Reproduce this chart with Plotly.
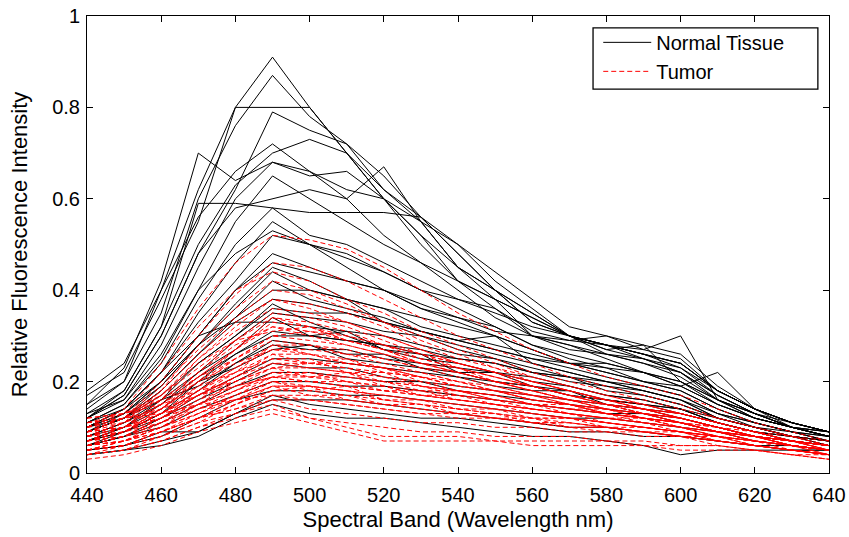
import plotly.graph_objects as go

wavelengths = [440, 450, 460, 470, 480, 490, 500, 510, 520, 530, 540,
               550, 560, 570, 580, 590, 600, 610, 620, 630, 640]

normal_1 = [0.17,0.22,0.38,0.55,0.80,0.91,0.80,0.70,0.60,0.52,0.42,0.38,0.30,0.28,0.25,0.22,0.20,0.15,0.12,0.10,0.09]
normal_2 = [0.15,0.20,0.35,0.60,0.76,0.87,0.78,0.72,0.62,0.55,0.45,0.40,0.33,0.30,0.28,0.25,0.23,0.17,0.13,0.10,0.09]
normal_3 = [0.14,0.20,0.40,0.62,0.80,0.80,0.80,0.70,0.60,0.50,0.42,0.36,0.31,0.29,0.28,0.26,0.24,0.18,0.14,0.11,0.09]
normal_4 = [0.12,0.17,0.30,0.48,0.62,0.79,0.75,0.72,0.65,0.56,0.48,0.40,0.35,0.30,0.28,0.26,0.24,0.18,0.14,0.11,0.09]
normal_5 = [0.15,0.23,0.42,0.70,0.64,0.68,0.66,0.62,0.60,0.55,0.50,0.42,0.36,0.30,0.28,0.27,0.25,0.18,0.14,0.11,0.09]
normal_6 = [0.13,0.18,0.32,0.50,0.63,0.70,0.73,0.70,0.62,0.56,0.50,0.44,0.38,0.32,0.30,0.28,0.26,0.19,0.14,0.11,0.09]
normal_7 = [0.12,0.16,0.28,0.45,0.60,0.68,0.65,0.66,0.60,0.52,0.45,0.40,0.33,0.30,0.27,0.25,0.22,0.17,0.13,0.10,0.09]
normal_8 = [0.11,0.15,0.25,0.40,0.55,0.65,0.60,0.55,0.50,0.46,0.42,0.38,0.34,0.30,0.27,0.28,0.20,0.16,0.13,0.10,0.08]
normal_9 = [0.12,0.17,0.30,0.48,0.58,0.60,0.62,0.60,0.67,0.55,0.45,0.38,0.34,0.30,0.28,0.26,0.23,0.18,0.14,0.11,0.09]
normal_10 = [0.11,0.15,0.24,0.38,0.50,0.58,0.52,0.50,0.46,0.42,0.38,0.36,0.30,0.28,0.26,0.24,0.21,0.16,0.12,0.10,0.08]
normal_11 = [0.12,0.18,0.32,0.59,0.59,0.58,0.57,0.57,0.57,0.56,0.48,0.40,0.35,0.30,0.28,0.26,0.24,0.18,0.14,0.11,0.09]
normal_12 = [0.10,0.14,0.22,0.35,0.46,0.55,0.50,0.48,0.44,0.40,0.36,0.32,0.28,0.26,0.24,0.22,0.19,0.15,0.12,0.10,0.08]
normal_13 = [0.10,0.14,0.22,0.33,0.42,0.52,0.50,0.45,0.40,0.36,0.33,0.30,0.27,0.24,0.22,0.20,0.18,0.14,0.11,0.09,0.08]
normal_14 = [0.09,0.13,0.20,0.30,0.40,0.48,0.45,0.42,0.40,0.36,0.34,0.32,0.28,0.25,0.23,0.22,0.19,0.15,0.12,0.10,0.08]
normal_15 = [0.10,0.13,0.19,0.28,0.37,0.45,0.42,0.38,0.36,0.32,0.30,0.28,0.26,0.24,0.22,0.20,0.18,0.14,0.11,0.09,0.08]
normal_16 = [0.09,0.12,0.18,0.26,0.34,0.42,0.38,0.36,0.34,0.31,0.29,0.30,0.24,0.22,0.20,0.19,0.17,0.13,0.11,0.09,0.07]
normal_17 = [0.09,0.12,0.17,0.24,0.30,0.36,0.35,0.35,0.33,0.31,0.29,0.27,0.25,0.23,0.21,0.19,0.17,0.13,0.10,0.09,0.07]
normal_18 = [0.08,0.11,0.16,0.22,0.29,0.35,0.34,0.33,0.31,0.30,0.28,0.26,0.24,0.22,0.20,0.18,0.16,0.12,0.10,0.08,0.07]
normal_19 = [0.10,0.14,0.22,0.30,0.33,0.33,0.32,0.31,0.30,0.28,0.26,0.25,0.23,0.21,0.19,0.18,0.16,0.12,0.10,0.08,0.07]
normal_20 = [0.07,0.10,0.14,0.20,0.26,0.30,0.30,0.29,0.28,0.27,0.25,0.24,0.22,0.20,0.19,0.17,0.15,0.12,0.10,0.08,0.07]
normal_21 = [0.07,0.09,0.13,0.18,0.24,0.28,0.27,0.27,0.25,0.24,0.23,0.22,0.20,0.19,0.17,0.16,0.14,0.11,0.09,0.08,0.06]
normal_22 = [0.07,0.09,0.12,0.17,0.21,0.25,0.25,0.24,0.23,0.22,0.21,0.20,0.19,0.17,0.16,0.15,0.13,0.11,0.09,0.07,0.06]
normal_23 = [0.06,0.08,0.11,0.15,0.19,0.22,0.22,0.21,0.20,0.20,0.19,0.18,0.17,0.16,0.15,0.14,0.12,0.10,0.08,0.07,0.06]
normal_24 = [0.06,0.08,0.10,0.14,0.17,0.20,0.20,0.19,0.19,0.18,0.17,0.16,0.15,0.14,0.13,0.13,0.11,0.09,0.08,0.07,0.06]
normal_25 = [0.05,0.06,0.08,0.12,0.16,0.18,0.18,0.17,0.17,0.16,0.15,0.14,0.13,0.12,0.12,0.11,0.10,0.09,0.07,0.06,0.05]
normal_26 = [0.04,0.05,0.07,0.09,0.13,0.16,0.16,0.16,0.15,0.14,0.13,0.12,0.11,0.10,0.10,0.09,0.08,0.07,0.06,0.06,0.05]
normal_27 = [0.13,0.16,0.26,0.40,0.48,0.53,0.50,0.47,0.44,0.40,0.38,0.35,0.32,0.30,0.26,0.24,0.22,0.17,0.13,0.10,0.08]
normal_28 = [0.11,0.14,0.20,0.28,0.34,0.40,0.40,0.38,0.36,0.34,0.32,0.30,0.27,0.24,0.24,0.22,0.20,0.16,0.12,0.10,0.08]
normal_29 = [0.18,0.24,0.40,0.56,0.66,0.72,0.66,0.60,0.52,0.46,0.40,0.34,0.30,0.27,0.26,0.25,0.22,0.16,0.13,0.11,0.09]
normal_30 = [0.08,0.10,0.15,0.21,0.26,0.31,0.30,0.29,0.28,0.26,0.25,0.24,0.22,0.21,0.20,0.18,0.16,0.13,0.11,0.09,0.07]
normal_31 = [0.10,0.13,0.20,0.30,0.40,0.46,0.44,0.42,0.40,0.37,0.34,0.31,0.30,0.29,0.30,0.27,0.30,0.16,0.13,0.10,0.08]
normal_32 = [0.09,0.12,0.18,0.26,0.33,0.38,0.37,0.35,0.33,0.31,0.29,0.27,0.25,0.24,0.23,0.20,0.19,0.22,0.14,0.10,0.08]
normal_33 = [0.04,0.05,0.06,0.08,0.12,0.15,0.13,0.12,0.12,0.11,0.10,0.09,0.08,0.08,0.07,0.06,0.04,0.05,0.05,0.05,0.05]
normal_34 = [0.05,0.06,0.09,0.09,0.13,0.17,0.15,0.14,0.13,0.12,0.12,0.11,0.10,0.09,0.09,0.08,0.08,0.07,0.06,0.05,0.05]
normal_35 = [0.08,0.11,0.15,0.22,0.27,0.34,0.30,0.31,0.27,0.26,0.22,0.22,0.19,0.18,0.16,0.15,0.14,0.11,0.09,0.08,0.06]
normal_36 = [0.06,0.09,0.13,0.20,0.23,0.27,0.28,0.25,0.24,0.23,0.21,0.19,0.18,0.18,0.15,0.14,0.13,0.11,0.09,0.07,0.06]
normal_37 = [0.09,0.12,0.19,0.28,0.36,0.44,0.40,0.38,0.33,0.30,0.27,0.25,0.22,0.21,0.18,0.17,0.15,0.12,0.10,0.08,0.07]
normal_38 = [0.07,0.10,0.16,0.24,0.30,0.37,0.33,0.30,0.27,0.25,0.24,0.22,0.21,0.19,0.17,0.16,0.14,0.12,0.10,0.08,0.07]
normal_39 = [0.10,0.12,0.16,0.19,0.24,0.29,0.28,0.26,0.26,0.23,0.22,0.20,0.19,0.17,0.16,0.15,0.14,0.11,0.09,0.08,0.07]
normal_40 = [0.06,0.08,0.12,0.16,0.20,0.24,0.23,0.23,0.21,0.20,0.18,0.17,0.16,0.15,0.14,0.13,0.12,0.10,0.08,0.07,0.06]

tumor_1 = [0.10,0.14,0.24,0.36,0.46,0.52,0.51,0.49,0.45,0.40,0.35,0.31,0.27,0.24,0.21,0.19,0.17,0.14,0.11,0.09,0.07]
tumor_2 = [0.09,0.12,0.20,0.30,0.39,0.46,0.45,0.42,0.38,0.34,0.30,0.27,0.24,0.21,0.19,0.17,0.15,0.12,0.10,0.08,0.07]
tumor_3 = [0.10,0.13,0.22,0.32,0.40,0.44,0.42,0.38,0.35,0.31,0.28,0.25,0.22,0.20,0.18,0.16,0.14,0.12,0.10,0.08,0.06]
tumor_4 = [0.08,0.11,0.18,0.28,0.36,0.42,0.40,0.37,0.33,0.30,0.27,0.24,0.21,0.19,0.17,0.15,0.13,0.11,0.09,0.07,0.06]
tumor_5 = [0.09,0.12,0.19,0.27,0.34,0.40,0.39,0.36,0.33,0.29,0.26,0.23,0.21,0.19,0.17,0.15,0.13,0.11,0.09,0.07,0.06]
tumor_6 = [0.07,0.10,0.16,0.25,0.32,0.38,0.37,0.35,0.32,0.28,0.25,0.23,0.20,0.18,0.16,0.15,0.13,0.11,0.09,0.07,0.06]
tumor_7 = [0.08,0.11,0.17,0.25,0.31,0.36,0.35,0.33,0.30,0.27,0.24,0.22,0.20,0.18,0.16,0.14,0.12,0.10,0.08,0.07,0.05]
tumor_8 = [0.07,0.10,0.15,0.22,0.29,0.35,0.34,0.32,0.29,0.26,0.24,0.22,0.19,0.17,0.16,0.14,0.12,0.10,0.08,0.07,0.05]
tumor_9 = [0.09,0.12,0.17,0.24,0.29,0.34,0.33,0.31,0.28,0.26,0.23,0.21,0.19,0.17,0.15,0.14,0.12,0.10,0.08,0.07,0.05]
tumor_10 = [0.06,0.09,0.14,0.21,0.27,0.33,0.32,0.30,0.28,0.25,0.23,0.21,0.19,0.17,0.15,0.13,0.12,0.10,0.08,0.06,0.05]
tumor_11 = [0.08,0.10,0.15,0.21,0.27,0.32,0.31,0.29,0.27,0.24,0.22,0.20,0.18,0.16,0.15,0.13,0.11,0.09,0.08,0.06,0.05]
tumor_12 = [0.07,0.09,0.14,0.20,0.25,0.30,0.29,0.28,0.26,0.24,0.22,0.20,0.18,0.16,0.14,0.13,0.11,0.09,0.08,0.06,0.05]
tumor_13 = [0.10,0.12,0.16,0.21,0.25,0.29,0.28,0.26,0.24,0.22,0.20,0.18,0.17,0.15,0.14,0.12,0.11,0.09,0.07,0.06,0.05]
tumor_14 = [0.06,0.08,0.12,0.18,0.23,0.28,0.28,0.27,0.25,0.23,0.21,0.19,0.17,0.16,0.14,0.13,0.11,0.09,0.08,0.06,0.05]
tumor_15 = [0.08,0.10,0.13,0.18,0.23,0.27,0.26,0.25,0.23,0.21,0.20,0.18,0.16,0.15,0.13,0.12,0.11,0.09,0.07,0.06,0.05]
tumor_16 = [0.05,0.07,0.11,0.16,0.21,0.26,0.26,0.24,0.23,0.21,0.19,0.18,0.16,0.15,0.13,0.12,0.10,0.09,0.07,0.06,0.05]
tumor_17 = [0.07,0.09,0.12,0.17,0.21,0.25,0.24,0.23,0.21,0.20,0.18,0.17,0.15,0.14,0.13,0.12,0.10,0.08,0.07,0.06,0.05]
tumor_18 = [0.09,0.10,0.13,0.17,0.21,0.24,0.23,0.22,0.21,0.19,0.18,0.16,0.15,0.14,0.13,0.11,0.10,0.08,0.07,0.06,0.04]
tumor_19 = [0.06,0.07,0.10,0.15,0.19,0.23,0.23,0.22,0.20,0.19,0.17,0.16,0.15,0.13,0.12,0.11,0.10,0.08,0.07,0.05,0.04]
tumor_20 = [0.05,0.07,0.10,0.14,0.18,0.22,0.22,0.21,0.20,0.18,0.17,0.16,0.14,0.13,0.12,0.11,0.09,0.08,0.06,0.05,0.04]
tumor_21 = [0.08,0.09,0.11,0.15,0.18,0.21,0.21,0.20,0.19,0.17,0.16,0.15,0.14,0.13,0.11,0.10,0.09,0.08,0.06,0.05,0.04]
tumor_22 = [0.05,0.06,0.09,0.13,0.17,0.20,0.20,0.19,0.18,0.17,0.16,0.15,0.13,0.12,0.11,0.10,0.09,0.07,0.06,0.05,0.04]
tumor_23 = [0.07,0.08,0.10,0.13,0.16,0.19,0.19,0.18,0.17,0.16,0.15,0.14,0.13,0.12,0.11,0.10,0.09,0.07,0.06,0.05,0.04]
tumor_24 = [0.04,0.05,0.08,0.11,0.15,0.18,0.18,0.17,0.16,0.15,0.14,0.13,0.12,0.11,0.10,0.09,0.08,0.07,0.06,0.05,0.04]
tumor_25 = [0.06,0.07,0.09,0.12,0.14,0.17,0.17,0.16,0.15,0.14,0.13,0.12,0.11,0.11,0.10,0.09,0.08,0.07,0.06,0.05,0.04]
tumor_26 = [0.04,0.05,0.07,0.10,0.13,0.16,0.16,0.15,0.14,0.13,0.12,0.12,0.11,0.10,0.09,0.09,0.08,0.06,0.05,0.04,0.03]
tumor_27 = [0.05,0.06,0.08,0.11,0.13,0.15,0.12,0.10,0.08,0.08,0.08,0.07,0.07,0.07,0.07,0.06,0.06,0.06,0.05,0.04,0.03]
tumor_28 = [0.03,0.04,0.06,0.09,0.11,0.13,0.11,0.09,0.07,0.07,0.07,0.07,0.06,0.06,0.06,0.06,0.05,0.05,0.05,0.04,0.03]
tumor_29 = [0.11,0.12,0.13,0.15,0.16,0.17,0.16,0.15,0.14,0.13,0.13,0.12,0.11,0.10,0.10,0.09,0.08,0.07,0.06,0.05,0.04]
tumor_30 = [0.12,0.13,0.16,0.22,0.28,0.32,0.30,0.28,0.26,0.24,0.22,0.20,0.18,0.16,0.15,0.13,0.12,0.10,0.08,0.07,0.06]
tumor_31 = [0.10,0.12,0.18,0.26,0.33,0.38,0.36,0.33,0.30,0.27,0.24,0.22,0.20,0.18,0.16,0.14,0.13,0.11,0.09,0.07,0.06]
tumor_32 = [0.09,0.11,0.15,0.20,0.24,0.27,0.27,0.26,0.25,0.23,0.22,0.20,0.18,0.16,0.15,0.13,0.12,0.10,0.08,0.07,0.06]
tumor_33 = [0.06,0.08,0.12,0.17,0.20,0.23,0.24,0.24,0.23,0.22,0.20,0.19,0.17,0.16,0.14,0.13,0.11,0.09,0.08,0.06,0.05]
tumor_34 = [0.11,0.12,0.14,0.17,0.19,0.21,0.20,0.19,0.18,0.17,0.16,0.15,0.14,0.13,0.12,0.11,0.10,0.08,0.07,0.06,0.05]
tumor_35 = [0.07,0.09,0.13,0.19,0.25,0.30,0.31,0.30,0.28,0.26,0.24,0.22,0.20,0.18,0.16,0.14,0.13,0.11,0.09,0.07,0.06]
tumor_36 = [0.05,0.07,0.10,0.14,0.17,0.20,0.19,0.18,0.16,0.15,0.14,0.13,0.12,0.12,0.11,0.10,0.09,0.08,0.07,0.06,0.05]
tumor_37 = [0.04,0.06,0.09,0.12,0.15,0.19,0.19,0.18,0.17,0.16,0.15,0.14,0.13,0.12,0.11,0.10,0.09,0.08,0.07,0.06,0.04]
tumor_38 = [0.08,0.10,0.14,0.20,0.27,0.34,0.32,0.29,0.27,0.25,0.23,0.21,0.19,0.17,0.15,0.14,0.12,0.10,0.08,0.07,0.06]
tumor_39 = [0.06,0.08,0.11,0.15,0.20,0.24,0.24,0.23,0.22,0.21,0.19,0.18,0.16,0.15,0.14,0.12,0.11,0.10,0.08,0.07,0.06]
tumor_40 = [0.09,0.10,0.12,0.15,0.18,0.22,0.21,0.21,0.20,0.19,0.18,0.17,0.15,0.14,0.13,0.12,0.11,0.09,0.08,0.07,0.05]
tumor_41 = [0.04,0.05,0.07,0.10,0.12,0.14,0.12,0.11,0.10,0.09,0.09,0.08,0.08,0.08,0.07,0.07,0.06,0.06,0.05,0.04,0.04]
tumor_42 = [0.06,0.07,0.09,0.12,0.14,0.16,0.14,0.13,0.12,0.11,0.11,0.10,0.10,0.09,0.09,0.08,0.08,0.07,0.06,0.05,0.04]
tumor_43 = [0.12,0.13,0.15,0.18,0.20,0.23,0.21,0.22,0.19,0.18,0.18,0.16,0.15,0.14,0.14,0.12,0.11,0.10,0.08,0.07,0.06]
tumor_44 = [0.07,0.08,0.11,0.14,0.16,0.20,0.18,0.19,0.16,0.16,0.14,0.14,0.12,0.12,0.10,0.10,0.09,0.08,0.07,0.06,0.05]
tumor_45 = [0.05,0.06,0.08,0.12,0.15,0.18,0.19,0.16,0.15,0.15,0.13,0.12,0.12,0.10,0.10,0.09,0.08,0.08,0.06,0.05,0.04]
tumor_46 = [0.10,0.11,0.14,0.19,0.22,0.26,0.24,0.25,0.22,0.21,0.19,0.18,0.17,0.15,0.14,0.13,0.12,0.10,0.09,0.07,0.06]
tumor_47 = [0.08,0.09,0.13,0.17,0.22,0.25,0.25,0.22,0.22,0.19,0.18,0.17,0.15,0.15,0.13,0.12,0.11,0.09,0.08,0.06,0.05]
tumor_48 = [0.06,0.07,0.10,0.13,0.17,0.21,0.20,0.20,0.18,0.18,0.16,0.15,0.14,0.13,0.12,0.11,0.10,0.09,0.08,0.06,0.05]
tumor_49 = [0.09,0.10,0.12,0.16,0.19,0.21,0.22,0.20,0.19,0.17,0.17,0.15,0.14,0.13,0.12,0.12,0.10,0.09,0.07,0.06,0.05]
tumor_50 = [0.05,0.06,0.09,0.12,0.16,0.19,0.17,0.17,0.15,0.14,0.13,0.13,0.11,0.11,0.10,0.09,0.09,0.07,0.06,0.05,0.04]
tumor_51 = [0.11,0.13,0.17,0.23,0.29,0.31,0.32,0.29,0.27,0.24,0.23,0.20,0.19,0.17,0.15,0.14,0.13,0.11,0.09,0.08,0.06]
tumor_52 = [0.07,0.09,0.13,0.18,0.22,0.28,0.26,0.24,0.23,0.20,0.19,0.18,0.16,0.15,0.13,0.12,0.11,0.09,0.08,0.07,0.05]

normal_series = [normal_1, normal_2, normal_3, normal_4, normal_5, normal_6, normal_7, normal_8,
                 normal_9, normal_10, normal_11, normal_12, normal_13, normal_14, normal_15, normal_16,
                 normal_17, normal_18, normal_19, normal_20, normal_21, normal_22, normal_23, normal_24,
                 normal_25, normal_26, normal_27, normal_28, normal_29, normal_30, normal_31, normal_32,
                 normal_33, normal_34, normal_35, normal_36, normal_37, normal_38, normal_39, normal_40]
tumor_series = [tumor_1, tumor_2, tumor_3, tumor_4, tumor_5, tumor_6, tumor_7, tumor_8, tumor_9, tumor_10,
                tumor_11, tumor_12, tumor_13, tumor_14, tumor_15, tumor_16, tumor_17, tumor_18, tumor_19, tumor_20,
                tumor_21, tumor_22, tumor_23, tumor_24, tumor_25, tumor_26, tumor_27, tumor_28, tumor_29, tumor_30,
                tumor_31, tumor_32, tumor_33, tumor_34, tumor_35, tumor_36, tumor_37, tumor_38, tumor_39, tumor_40,
                tumor_41, tumor_42, tumor_43, tumor_44, tumor_45, tumor_46, tumor_47, tumor_48, tumor_49, tumor_50,
                tumor_51, tumor_52]

x_ticks = [440, 460, 480, 500, 520, 540, 560, 580, 600, 620, 640]
y_ticks = [0, 0.2, 0.4, 0.6, 0.8, 1]
y_tick_labels = ["0", "0.2", "0.4", "0.6", "0.8", "1"]

FONT = "Liberation Sans, Arial, sans-serif"

fig = go.Figure()
for i, ys in enumerate(normal_series):
    fig.add_trace(go.Scatter(x=wavelengths, y=ys, mode="lines",
                             line=dict(color="black", width=1),
                             name="Normal Tissue", legendgroup="normal",
                             showlegend=(i == 0), hoverinfo="skip"))
for i, ys in enumerate(tumor_series):
    fig.add_trace(go.Scatter(x=wavelengths, y=ys, mode="lines",
                             line=dict(color="red", width=1, dash="5px,3px"),
                             name="Tumor", legendgroup="tumor",
                             showlegend=(i == 0), hoverinfo="skip"))

axis_common = dict(showline=True, linecolor="black", linewidth=1, mirror="ticks",
                   ticks="inside", ticklen=6, tickcolor="black", showgrid=False,
                   zeroline=False, automargin=False,
                   tickfont=dict(family=FONT, size=20, color="black"))

# legend frame (white box with black border) drawn as a paper-anchored shape
fig.add_shape(type="rect", xref="paper", yref="paper",
              x0=0.682, x1=0.985, y0=0.840, y1=0.974,
              line=dict(color="black", width=1.3), fillcolor="white", layer="above")

fig.update_layout(
    width=849, height=537,
    margin=dict(l=87, r=20, t=16, b=64),
    paper_bgcolor="white", plot_bgcolor="white",
    font=dict(family=FONT, size=20, color="black"),
    showlegend=True,
    legend=dict(x=0.689, y=0.985, xanchor="left", yanchor="top",
                bgcolor="rgba(0,0,0,0)", borderwidth=0,
                font=dict(family=FONT, size=20, color="black"),
                tracegroupgap=0, itemwidth=48),
    xaxis=dict(range=[440, 640], tickmode="array", tickvals=x_ticks,
               ticklabelstandoff=4,
               title=dict(text="Spectral Band (Wavelength nm)", standoff=6,
                          font=dict(family=FONT, size=22)),
               **axis_common),
    yaxis=dict(range=[0, 1], tickmode="array", tickvals=y_ticks, ticktext=y_tick_labels,
               ticklabelstandoff=2,
               title=dict(text="Relative Fluorescence Intensity", standoff=18,
                          font=dict(family=FONT, size=22)),
               **axis_common),
)

fig.write_html("out.html",
               config={"displayModeBar": False},
               post_script="document.body.style.margin='0';document.body.style.padding='0';")
